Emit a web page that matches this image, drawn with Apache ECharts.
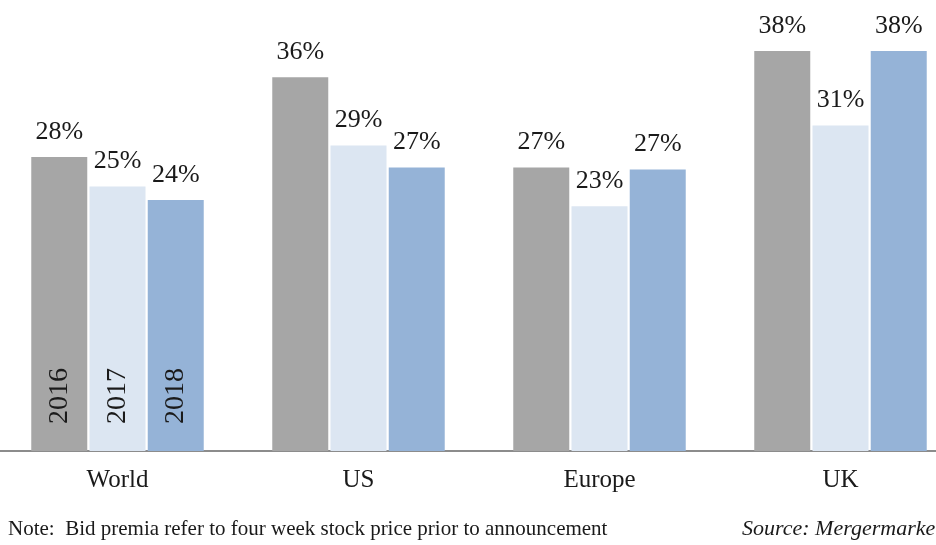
<!DOCTYPE html>
<html>
<head>
<meta charset="utf-8">
<script src="https://cdn.jsdelivr.net/npm/echarts@6/dist/echarts.min.js"></script>
<style>
    html, body { margin: 0; padding: 0; background: #fff; }
    #chart { width: 936px; height: 545px; }
</style>
</head>
<body>
<div id="chart"></div>
<script>
// Bid premia by region, 2016-2018 (%)
const regions = ['World', 'US', 'Europe', 'UK'];
const years = ['2016', '2017', '2018'];
const premia2016 = [28.0, 35.6, 27.0, 38.1];
const premia2017 = [25.2, 29.1, 23.3, 31.0];
const premia2018 = [23.9, 27.0, 26.8, 38.1];
const barColors = ['#a6a6a6', '#dce6f2', '#95b3d7'];

const serif = '"Liberation Serif", "Times New Roman", serif';

function makeSeries(name, values, color) {
    return {
        name: name,
        type: 'bar',
        data: values,
        barWidth: 56,
        barGap: '4%',
        itemStyle: { color: color },
        label: {
            show: true,
            position: 'top',
            distance: 12,
            fontFamily: serif,
            fontSize: 26,
            color: '#1a1a1a',
            formatter: p => Math.round(p.value) + '%'
        },
        // year tag written upwards inside the World bar
        markPoint: {
            symbol: 'rect',
            symbolSize: [1, 1],
            symbolOffset: [0, -55],
            itemStyle: { color: 'rgba(0,0,0,0)' },
            silent: true,
            data: [{ coord: ['World', 0] }],
            label: {
                show: true,
                position: 'inside',
                rotate: 90,
                fontFamily: serif,
                fontSize: 28,
                color: '#1a1a1a',
                formatter: name
            }
        },
        animation: false
    };
}

const chart = echarts.init(document.getElementById('chart'));

chart.setOption({
    backgroundColor: '#ffffff',
    grid: { left: -3, top: 31, width: 964, bottom: 94, outerBoundsMode: 'none' },
    xAxis: {
        type: 'category',
        data: regions,
        axisLine: { lineStyle: { color: '#8c8c8c', width: 2 } },
        axisTick: { show: false },
        axisLabel: {
            margin: 17,
            fontFamily: serif,
            fontSize: 25,
            color: '#1a1a1a'
        }
    },
    yAxis: {
        type: 'value',
        min: 0,
        max: 40,
        show: false,
        splitLine: { show: false }
    },
    series: [
        makeSeries(years[0], premia2016, barColors[0]),
        makeSeries(years[1], premia2017, barColors[1]),
        makeSeries(years[2], premia2018, barColors[2])
    ],
    graphic: [
        {
            type: 'text',
            left: 8,
            top: 519,
            style: {
                text: 'Note:  Bid premia refer to four week stock price prior to announcement',
                font: '21px ' + serif,
                fill: '#1a1a1a'
            }
        },
        {
            type: 'text',
            left: 742,
            top: 518,
            style: {
                text: 'Source: Mergermarket',
                font: 'italic 22px ' + serif,
                fill: '#1a1a1a'
            }
        }
    ]
});
</script>
</body>
</html>
